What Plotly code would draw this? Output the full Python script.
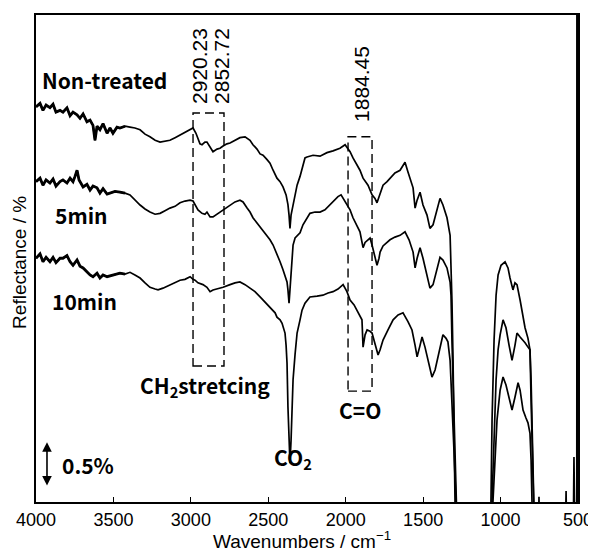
import plotly.graph_objects as go

# ---------------- data (wavenumber cm^-1, reflectance %) ----------------
wn_nt = [4000, 3974, 3955, 3935, 3910, 3890, 3871, 3845, 3826, 3800, 3780, 3761, 3735, 3716, 3696,
         3671, 3651, 3632, 3619, 3606, 3587, 3567, 3541, 3522, 3503, 3477, 3458, 3425, 3393, 3361,
         3328, 3296, 3264, 3231, 3199, 3167, 3135, 3102, 3070, 3038, 3005, 2986, 2967, 2954, 2941,
         2928, 2909, 2896, 2876, 2857, 2831, 2812, 2792, 2767, 2747, 2715, 2683, 2650, 2618, 2599,
         2573, 2553, 2534, 2508, 2489, 2469, 2444, 2424, 2405, 2385, 2373, 2366, 2360, 2353, 2340,
         2327, 2314, 2295, 2276, 2263, 2250, 2211, 2166, 2121, 2082, 2037, 2004, 1972, 1953, 1927,
         1908, 1888, 1856, 1830, 1811, 1798, 1778, 1759, 1733, 1714, 1682, 1649, 1630, 1617, 1598,
         1578, 1565, 1552, 1539, 1520, 1501, 1475, 1456, 1436, 1410, 1391, 1372, 1346, 1326, 1320,
         1314, 1307, 1294, 1275, 1068, 1062, 1055, 1042, 1029, 1016, 997, 971, 952, 939, 926,
         920, 907, 894, 874, 855, 842, 823, 810, 803, 797, 790, 777, 758, 752, 745,
         584, 577, 571, 532, 526, 519, 508, 506, 500]
r_nt = [4.49, 4.53, 4.45, 4.51, 4.48, 4.52, 4.43, 4.45, 4.43, 4.48, 4.39, 4.43, 4.40, 4.36, 4.41,
        4.32, 4.34, 4.28, 4.11, 4.27, 4.23, 4.30, 4.19, 4.25, 4.19, 4.26, 4.25, 4.27, 4.26, 4.25,
        4.23, 4.18, 4.15, 4.11, 4.09, 4.10, 4.11, 4.14, 4.17, 4.20, 4.23, 4.25, 4.19, 4.14, 4.07,
        4.06, 4.09, 4.09, 4.03, 3.98, 4.01, 4.02, 4.045, 4.07, 4.08, 4.11, 4.14, 4.15, 4.11, 4.06,
        4.01, 3.955, 3.94, 3.89, 3.85, 3.77, 3.68, 3.64, 3.58, 3.49, 3.38, 3.26, 3.11, 3.26, 3.375,
        3.49, 3.60, 3.70, 3.83, 3.91, 3.92, 3.94, 3.93, 3.97, 3.99, 4.02, 4.06, 3.98, 3.91, 3.83,
        3.77, 3.68, 3.60, 3.49, 3.45, 3.40, 3.51, 3.60, 3.64, 3.68, 3.74, 3.77, 3.83, 3.86, 3.75,
        3.625, 3.57, 3.34, 3.43, 3.52, 3.375, 3.26, 3.11, 3.15, 3.32, 3.45, 3.375, 3.23, 3.03, 2.75,
        2.295, 1.61, 0.0, -0.66, -0.66, 0.0, 0.93, 1.84, 2.35, 2.58, 2.69, 2.73, 2.66, 2.545, 2.47,
        2.41, 2.49, 2.47, 2.295, 2.09, 1.98, 1.86, 1.73, 1.39, 0.70, 0.0, -0.66, -0.66, 0.06, -0.66,
        -0.66, 0.125, -0.66, -0.66, 0.51, -0.66, -0.66, 6.0, 6.0]

wn_5 = [4000, 3974, 3955, 3935, 3910, 3890, 3871, 3845, 3826, 3800, 3780, 3761, 3748, 3735, 3722,
        3696, 3671, 3651, 3632, 3606, 3587, 3567, 3541, 3522, 3490, 3458, 3425, 3393, 3361, 3328,
        3296, 3264, 3231, 3199, 3167, 3135, 3102, 3070, 3038, 3005, 2986, 2973, 2954, 2928, 2909,
        2896, 2876, 2857, 2831, 2812, 2792, 2767, 2747, 2715, 2683, 2663, 2637, 2618, 2599, 2573,
        2553, 2534, 2508, 2489, 2469, 2444, 2424, 2405, 2392, 2379, 2373, 2366, 2360, 2353, 2347,
        2340, 2327, 2314, 2295, 2276, 2250, 2231, 2198, 2166, 2134, 2101, 2069, 2050, 2030, 2011,
        1992, 1972, 1953, 1927, 1908, 1888, 1875, 1856, 1843, 1830, 1811, 1798, 1785, 1778, 1759,
        1733, 1714, 1682, 1649, 1617, 1591, 1565, 1552, 1539, 1520, 1501, 1488, 1469, 1456, 1436,
        1410, 1391, 1372, 1346, 1326, 1320, 1314, 1301, 1288, 1275, 1068, 1055, 1042, 1029, 1016,
        1003, 984, 965, 945, 926, 907, 894, 874, 855, 842, 823, 810, 803, 797, 790,
        777, 500]
r_5 = [3.64, 3.68, 3.60, 3.66, 3.625, 3.67, 3.59, 3.64, 3.66, 3.625, 3.68, 3.64, 3.70, 3.77, 3.66,
       3.58, 3.61, 3.545, 3.59, 3.57, 3.51, 3.56, 3.50, 3.51, 3.53, 3.52, 3.51, 3.49, 3.43, 3.375,
       3.33, 3.295, 3.27, 3.28, 3.31, 3.34, 3.36, 3.40, 3.42, 3.43, 3.42, 3.375, 3.32, 3.28, 3.27,
       3.295, 3.24, 3.24, 3.27, 3.295, 3.32, 3.35, 3.375, 3.41, 3.43, 3.41, 3.34, 3.295, 3.23, 3.17,
       3.125, 3.08, 3.03, 2.98, 2.92, 2.82, 2.73, 2.64, 2.58, 2.50, 2.41, 2.26, 2.41, 2.58, 2.73,
       2.92, 3.00, 3.03, 3.06, 3.15, 3.23, 3.28, 3.295, 3.295, 3.32, 3.375, 3.43, 3.47, 3.49, 3.43,
       3.375, 3.32, 3.23, 3.14, 3.07, 2.89, 2.95, 2.98, 3.00, 2.92, 2.77, 2.69, 2.77, 2.84, 2.91,
       2.95, 2.98, 3.01, 3.03, 3.07, 2.98, 2.84, 2.66, 2.77, 2.89, 2.77, 2.66, 2.52, 2.43, 2.47,
       2.66, 2.78, 2.75, 2.66, 2.50, 2.35, 1.84, 0.93, 0.0, -0.66, -0.66, 0.0, 0.82, 1.39, 1.73,
       1.90, 2.07, 1.98, 1.78, 1.61, 1.78, 1.92, 1.875, 1.84, 1.81, 1.76, 1.73, 1.16, 0.48, 0.0,
       -0.66, -0.66]

wn_10 = [4000, 3974, 3955, 3935, 3910, 3890, 3871, 3845, 3826, 3800, 3780, 3761, 3735, 3716, 3696,
         3671, 3651, 3632, 3606, 3587, 3567, 3541, 3522, 3490, 3458, 3425, 3393, 3361, 3328, 3296,
         3264, 3231, 3212, 3180, 3135, 3102, 3070, 3038, 3005, 2986, 2973, 2954, 2922, 2896, 2876,
         2857, 2831, 2792, 2747, 2715, 2683, 2650, 2618, 2586, 2553, 2521, 2489, 2456, 2444, 2424,
         2411, 2392, 2385, 2379, 2373, 2366, 2360, 2353, 2347, 2340, 2327, 2314, 2295, 2282, 2263,
         2231, 2185, 2147, 2114, 2082, 2050, 2017, 1992, 1972, 1946, 1927, 1908, 1895, 1888, 1875,
         1862, 1843, 1830, 1811, 1791, 1778, 1759, 1727, 1694, 1662, 1630, 1598, 1572, 1552, 1539,
         1520, 1507, 1488, 1475, 1456, 1443, 1423, 1410, 1391, 1372, 1352, 1340, 1326, 1314, 1301,
         1288, 1275, 1068, 1049, 1036, 1023, 1003, 984, 965, 945, 926, 907, 887, 874, 855,
         836, 823, 810, 803, 797, 784, 500]
r_10 = [2.77, 2.82, 2.73, 2.78, 2.73, 2.78, 2.72, 2.77, 2.77, 2.80, 2.73, 2.69, 2.75, 2.68, 2.66,
        2.61, 2.58, 2.56, 2.60, 2.545, 2.58, 2.56, 2.57, 2.58, 2.60, 2.59, 2.61, 2.58, 2.545, 2.49,
        2.44, 2.42, 2.41, 2.43, 2.47, 2.49, 2.52, 2.53, 2.56, 2.53, 2.52, 2.49, 2.47, 2.44, 2.39,
        2.41, 2.42, 2.44, 2.47, 2.49, 2.50, 2.47, 2.43, 2.39, 2.33, 2.27, 2.22, 2.15, 2.10, 2.07,
        2.03, 1.92, 1.78, 1.58, 1.08, 0.70, 0.44, 0.70, 1.08, 1.39, 1.68, 1.92, 2.07, 2.18, 2.26,
        2.33, 2.34, 2.35, 2.375, 2.39, 2.42, 2.47, 2.39, 2.295, 2.24, 2.18, 2.125, 2.07, 1.76, 1.90,
        1.955, 1.94, 1.92, 1.81, 1.67, 1.73, 1.84, 1.955, 2.07, 2.125, 2.15, 2.05, 1.955, 1.78, 1.65,
        1.78, 1.875, 1.76, 1.65, 1.50, 1.42, 1.50, 1.61, 1.78, 1.90, 1.86, 1.82, 1.61, 1.19, 0.59,
        0.0, -0.66, -0.66, 0.0, 0.59, 0.93, 1.27, 1.42, 1.33, 1.18, 1.045, 1.19, 1.355, 1.27, 1.045,
        0.955, 0.90, 0.78, 0.48, 0.0, -0.66, -0.66]

series_names = ["Non-treated", "5min", "10min"]
x_tick_vals = [4000, 3500, 3000, 2500, 2000, 1500, 1000, 500]
x_tick_text = ["4000", "3500", "3000", "2500", "2000", "1500", "1000", "500"]

# ---------------- figure ----------------
fig = go.Figure()
for name, xs, ys in zip(series_names, [wn_nt, wn_5, wn_10], [r_nt, r_5, r_10]):
    fig.add_trace(go.Scatter(x=xs, y=ys, mode="lines", name=name,
                             line=dict(color="black", width=1.7), showlegend=False))
    # the noisy high-wavenumber end is drawn as a thicker band
    nx = [v for v in xs if v >= 3420]
    ny = ys[:len(nx)]
    fig.add_trace(go.Scatter(x=nx, y=ny, mode="lines", name=name, hoverinfo="skip",
                             line=dict(color="black", width=2.8), showlegend=False))

BOLD = dict(family="Noto Sans CJK JP", size=21, color="black", weight="bold")
NUM = dict(family="Liberation Sans", size=21, color="black")
AX = dict(family="Liberation Sans", size=19, color="black")

ann = []
ann.append(dict(x=3974, y=4.795, text="Non-treated", xanchor="left", yanchor="middle", font=BOLD, showarrow=False))
ann.append(dict(x=3890, y=3.26, text="5min", xanchor="left", yanchor="middle", font=BOLD, showarrow=False))
ann.append(dict(x=3910, y=2.28, text="10min", xanchor="left", yanchor="middle", font=BOLD, showarrow=False))
ann.append(dict(x=2909, y=1.32, text="CH<sub>2</sub>stretcing", xanchor="center", yanchor="middle", font=BOLD, showarrow=False))
ann.append(dict(x=1908, y=1.045, text="C=O", xanchor="center", yanchor="middle", font=BOLD, showarrow=False))
ann.append(dict(x=2340, y=0.50, text="CO<sub>2</sub>", xanchor="center", yanchor="middle", font=BOLD, showarrow=False))
ann.append(dict(x=3845, y=0.42, text="0.5%", xanchor="left", yanchor="middle", font=BOLD, showarrow=False))
ann.append(dict(x=2941, y=4.955, text="2920.23", textangle=-90, xanchor="center", yanchor="middle", font=NUM, showarrow=False))
ann.append(dict(x=2799, y=4.955, text="2852.72", textangle=-90, xanchor="center", yanchor="middle", font=NUM, showarrow=False))
ann.append(dict(x=1895, y=4.75, text="1884.45", textangle=-90, xanchor="center", yanchor="middle", font=NUM, showarrow=False))
# axis titles
ann.append(dict(x=0.491, y=-0.078, xref="paper", yref="paper", text="Wavenumbers / cm<sup>\u22121</sup>",
                xanchor="center", yanchor="middle", font=AX, showarrow=False))
ann.append(dict(x=-0.0295, y=0.491, xref="paper", yref="paper", text="Reflectance / %", textangle=-90,
                xanchor="center", yanchor="middle", font=AX, showarrow=False))
# scale arrow (0.5 %)
ann.append(dict(x=3929, y=0.68, ax=3929, ay=0.17, xref="x", yref="y", axref="x", ayref="y",
                text="", showarrow=True, arrowhead=2, arrowside="end+start", arrowsize=1.2,
                arrowwidth=1.6, arrowcolor="black"))

shapes = [
    dict(type="rect", xref="x", yref="y", x0=2986, x1=2786, y0=1.545, y1=4.42,
         line=dict(color="black", width=1.4, dash="9px,5px")),
    dict(type="rect", xref="x", yref="y", x0=1985, x1=1830, y0=1.26, y1=4.15,
         line=dict(color="black", width=1.4, dash="9px,5px")),
    dict(type="line", xref="paper", yref="paper", x0=1, x1=1, y0=0, y1=1,
         line=dict(color="black", width=3.5)),
]

# the page body adds an 8 px offset; the figure is sized to fit the window
fig.update_layout(
    width=588, height=546,
    margin=dict(l=28, r=18, t=7, b=52, autoexpand=False),
    paper_bgcolor="white", plot_bgcolor="white",
    annotations=ann, shapes=shapes,
    font=dict(family="Liberation Sans", color="black"),
)
fig.update_xaxes(range=[4000, 500], tickvals=x_tick_vals, ticktext=x_tick_text,
                 ticks="inside", ticklen=5, tickwidth=1.2, tickcolor="black",
                 showline=True, linecolor="black", linewidth=2, mirror=True,
                 showgrid=False, zeroline=False, automargin=False,
                 ticklabeloverflow="allow",
                 tickfont=dict(family="Liberation Sans", size=18, color="black"))
fig.update_yaxes(range=[0, 5.534], showticklabels=False, ticks="",
                 showline=True, linecolor="black", linewidth=2, mirror=True,
                 showgrid=False, zeroline=False, automargin=False)

fig.write_html("out.html")
